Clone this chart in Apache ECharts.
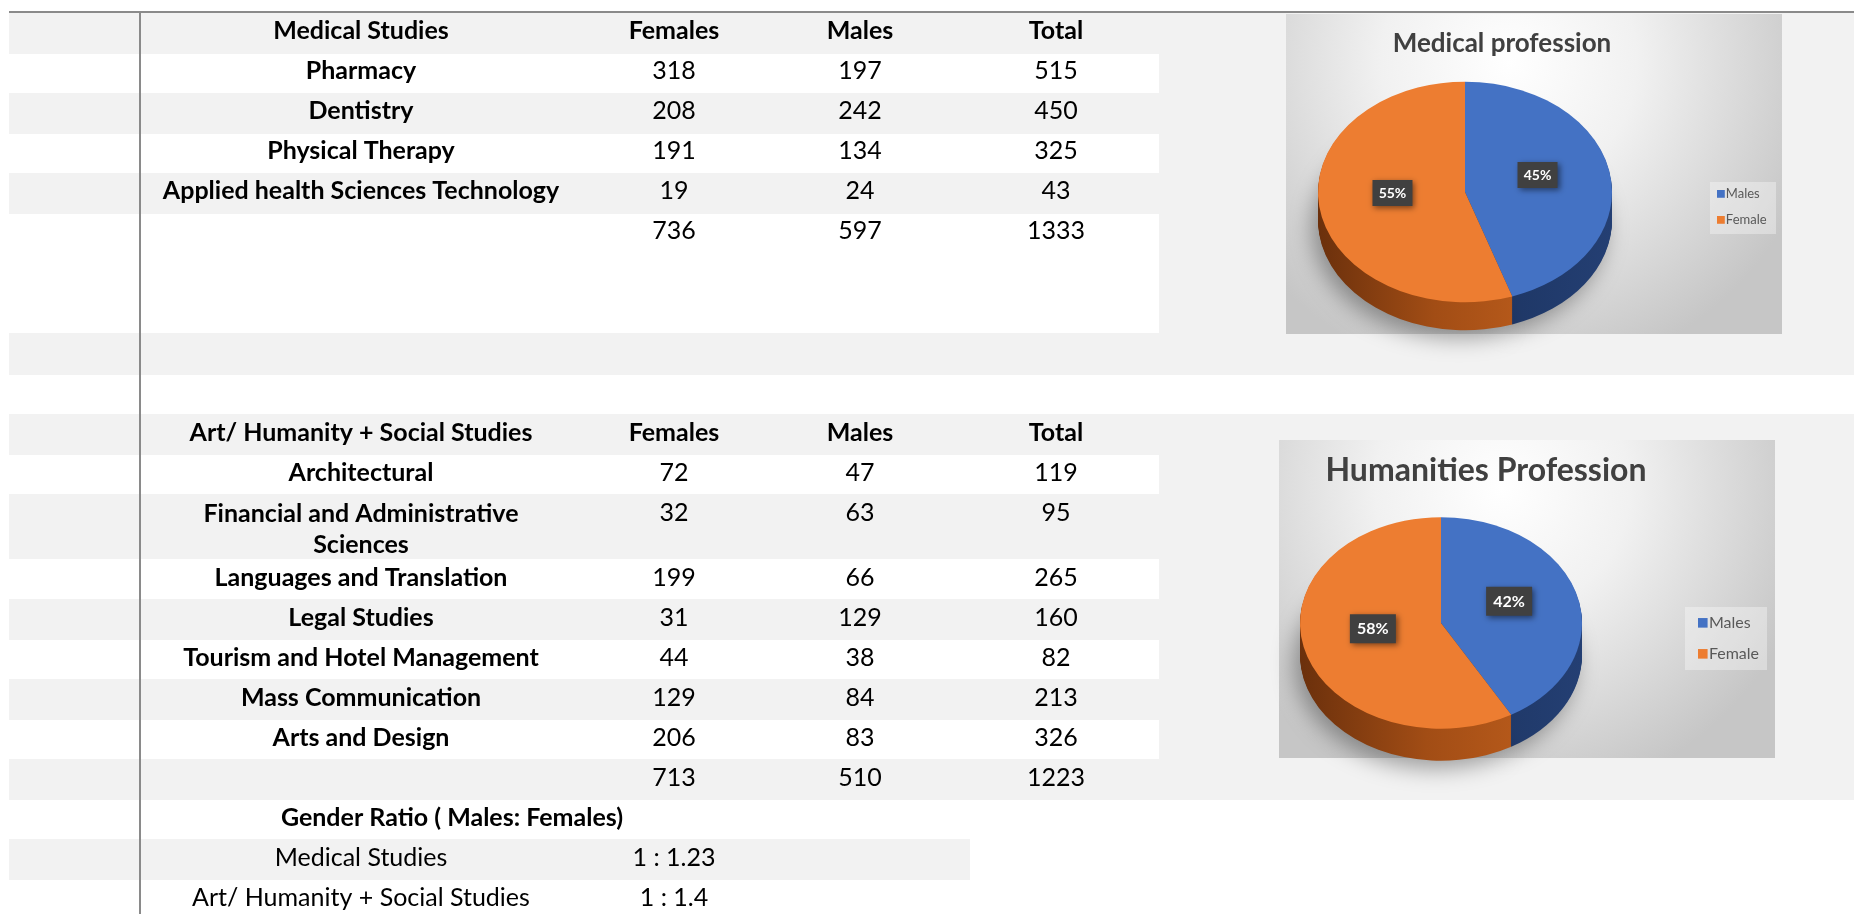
<!DOCTYPE html>
<html>
<head>
<meta charset="utf-8">
<title>Gender Ratio</title>
<script src="https://cdn.jsdelivr.net/npm/echarts@6/dist/echarts.min.js"></script>
<style>
html,body{margin:0;padding:0;background:#fff;}
#main{width:1854px;height:914px;}
</style>
</head>
<body>
<div id="main"></div>
<script>
// table data
var medHeader = ['Medical Studies', 'Females', 'Males', 'Total'];
var medSubjects = ['Pharmacy', 'Dentistry', 'Physical Therapy', 'Applied health Sciences Technology'];
var medFemales = [318, 208, 191, 19];
var medMales = [197, 242, 134, 24];
var medTotal = [515, 450, 325, 43];
var medSums = [736, 597, 1333];

var artHeader = ['Art/ Humanity + Social Studies', 'Females', 'Males', 'Total'];
var artSubjects = ['Architectural', 'Financial and Administrative\nSciences', 'Languages and Translation',
    'Legal Studies', 'Tourism and Hotel Management', 'Mass Communication', 'Arts and Design'];
var artFemales = [72, 32, 199, 31, 44, 129, 206];
var artMales = [47, 63, 66, 129, 38, 84, 83];
var artTotal = [119, 95, 265, 160, 82, 213, 326];
var artSums = [713, 510, 1223];

var ratioTitle = 'Gender Ratio ( Males: Females)';
var ratioLabels = ['Medical Studies', 'Art/ Humanity + Social Studies'];
var ratioValues = ['1 : 1.23', '1 : 1.4'];

// pie data
var pieNames = ['Males', 'Female'];
var medPie = [597, 736];
var artPie = [510, 713];
var pieTitles = ['Medical profession', 'Humanities Profession'];

var GRAY = '#f2f2f2';
var FONT = 'Lato';
var colX = [361, 674, 860, 1056];

function band(x, y, w, h, fill) {
    return {type: 'rect', z: 0, shape: {x: x, y: y, width: w, height: h}, style: {fill: fill}};
}
function txt(x, y, s, bold, size) {
    return {type: 'text', z: 1, x: x, y: y,
        style: {text: s, fill: '#000', fontFamily: FONT, fontSize: size || 25,
            fontWeight: bold ? 'bold' : 'normal', align: 'center', verticalAlign: 'middle', lineHeight: 31}};
}

var g = [];
// 背景色块
g.push(band(9, 12, 1845, 321, GRAY));         // table 1 + pie cell
g.push(band(9, 54, 1150, 39, '#fff'));
g.push(band(9, 134, 1150, 39, '#fff'));
g.push(band(9, 214, 1150, 119, '#fff'));
g.push(band(9, 333, 1845, 42, GRAY));
g.push(band(9, 414, 1845, 386, GRAY));        // table 2 + pie cell
g.push(band(9, 455, 1150, 39, '#fff'));
g.push(band(9, 559, 1150, 40, '#fff'));
g.push(band(9, 640, 1150, 39, '#fff'));
g.push(band(9, 720, 1150, 39, '#fff'));
g.push(band(9, 839, 961, 41, GRAY));
// lines
g.push({type: 'line', z: 3, shape: {x1: 9, y1: 12, x2: 1854, y2: 12}, style: {stroke: '#8a8a8a', lineWidth: 2}});
g.push({type: 'line', z: 3, shape: {x1: 140, y1: 12, x2: 140, y2: 914}, style: {stroke: '#8a8a8a', lineWidth: 2}});

// table 1
for (var h = 0; h < medHeader.length; h++) g.push(txt(colX[h], 31, medHeader[h], true));
var medY = [71, 111, 151, 191];
for (var i = 0; i < medSubjects.length; i++) {
    g.push(txt(colX[0], medY[i], medSubjects[i], true));
    g.push(txt(colX[1], medY[i], String(medFemales[i])));
    g.push(txt(colX[2], medY[i], String(medMales[i])));
    g.push(txt(colX[3], medY[i], String(medTotal[i])));
}
for (var s = 0; s < medSums.length; s++) g.push(txt(colX[s + 1], 231, String(medSums[s])));

// table 2
var artY = [473, 529, 578, 618, 658, 698, 738];
for (var h2 = 0; h2 < artHeader.length; h2++) g.push(txt(colX[h2], 433, artHeader[h2], true));
for (var j = 0; j < artSubjects.length; j++) {
    var yy = artY[j];
    g.push(txt(colX[0], yy, artSubjects[j], true));
    var ny = j == 1 ? 513 : yy;
    g.push(txt(colX[1], ny, String(artFemales[j])));
    g.push(txt(colX[2], ny, String(artMales[j])));
    g.push(txt(colX[3], ny, String(artTotal[j])));
}
for (var s2 = 0; s2 < artSums.length; s2++) g.push(txt(colX[s2 + 1], 778, String(artSums[s2])));

// gender ratio
g.push(txt(452, 818, ratioTitle, true));
for (var r = 0; r < ratioLabels.length; r++) {
    g.push(txt(colX[0], 858 + r * 40, ratioLabels[r]));
    g.push(txt(colX[1], 858 + r * 40, ratioValues[r]));
}

// chart picture backgrounds
function picBg(x, y, w, h) {
    return {type: 'rect', z: 1, shape: {x: x, y: y, width: w, height: h},
        style: {fill: {type: 'radial', x: 0.45, y: 0.15, r: 1.0,
            colorStops: [{offset: 0, color: '#ffffff'}, {offset: 0.4, color: '#f1f1f1'}, {offset: 1, color: '#c6c6c6'}]}}};
}
g.push(picBg(1286, 14, 496, 320));
g.push(picBg(1279, 440, 496, 318));

// titles
g.push({type: 'text', z: 3, x: 1502, y: 44,
    style: {text: pieTitles[0], fill: '#404040', fontFamily: FONT, fontSize: 26, fontWeight: 'bold', align: 'center', verticalAlign: 'middle'}});
g.push({type: 'text', z: 3, x: 1486, y: 471,
    style: {text: pieTitles[1], fill: '#404040', fontFamily: FONT, fontSize: 32, fontWeight: 'bold', align: 'center', verticalAlign: 'middle'}});

// legends
function legend(x, y, gap, size, box) {
    var colors = ['#4472c4', '#ed7d31'];
    g.push({type: 'rect', z: 2, shape: box, style: {fill: 'rgba(255,255,255,0.35)'}});
    for (var k = 0; k < pieNames.length; k++) {
        g.push({type: 'rect', z: 3, shape: {x: x, y: y + k * gap - size * 0.31, width: size * 0.6, height: size * 0.6},
            style: {fill: colors[k]}});
        g.push({type: 'text', z: 3, x: x + size * 0.68, y: y + k * gap,
            style: {text: pieNames[k], fill: '#595959', fontFamily: FONT, fontSize: size, verticalAlign: 'middle'}});
    }
}
legend(1717, 194, 26, 13, {x: 1710, y: 182, width: 66, height: 52});
legend(1698, 623, 31, 16, {x: 1685, y: 607, width: 82, height: 63});

// 3D-looking elliptical pie
var FACE = ['#4472c4', '#ed7d31'];
var SIDE = [
    {type: 'linear', x: 0, y: 0, x2: 1, y2: 0, colorStops: [{offset: 0, color: '#1c3461'}, {offset: 1, color: '#243f73'}]},
    {type: 'linear', x: 0, y: 0, x2: 1, y2: 0, colorStops: [{offset: 0, color: '#6b300c'}, {offset: 0.6, color: '#a24d15'}, {offset: 1, color: '#b4581a'}]}
];
function pie3d(values, cx, cy, r, depth, ratio, boxW, boxH, fs) {
    var total = 0;
    for (var i = 0; i < values.length; i++) total += values[i];
    return {
        type: 'custom',
        coordinateSystem: 'none',
        data: values.map(function (v, i) { return {name: pieNames[i], value: [v, i]}; }),
        renderItem: function (params, api) {
            var idx = api.value(1), v = api.value(0);
            var before = 0;
            for (var k = 0; k < idx; k++) before += values[k];
            var a0 = -Math.PI / 2 + before / total * Math.PI * 2;
            var a1 = a0 + v / total * Math.PI * 2;
            var kids = [];
            for (var d = depth; d >= 1; d--) {
                var el = {type: 'sector', z2: 1, x: cx, y: cy + d, scaleY: ratio,
                    shape: {cx: 0, cy: 0, r0: 0, r: r, startAngle: a0, endAngle: a1, clockwise: true},
                    style: {fill: SIDE[idx]}};
                if (d == depth) {
                    el.style.shadowBlur = 22;
                    el.style.shadowColor = 'rgba(0,0,0,0.35)';
                    el.style.shadowOffsetX = -6;
                    el.style.shadowOffsetY = 8;
                }
                kids.push(el);
            }
            kids.push({type: 'sector', z2: 5, x: cx, y: cy, scaleY: ratio,
                shape: {cx: 0, cy: 0, r0: 0, r: r, startAngle: a0, endAngle: a1, clockwise: true},
                style: {fill: FACE[idx]}});
            var mid = (a0 + a1) / 2;
            var lx = cx + Math.cos(mid) * r * 0.5;
            var ly = cy + Math.sin(mid) * r * 0.5 * ratio - 8;
            kids.push({type: 'rect', z2: 8, shape: {x: lx - boxW / 2, y: ly - boxH / 2, width: boxW, height: boxH},
                style: {fill: '#404040', shadowBlur: 6, shadowColor: 'rgba(0,0,0,0.5)', shadowOffsetX: 2, shadowOffsetY: 2}});
            kids.push({type: 'text', z2: 9, x: lx, y: ly,
                style: {text: Math.round(v / total * 100) + '%', fill: '#fff', fontFamily: FONT, fontWeight: 'bold',
                    fontSize: fs, align: 'center', verticalAlign: 'middle'}});
            return {type: 'group', children: kids};
        }
    };
}

var chart = echarts.init(document.getElementById('main'));
chart.setOption({
    animation: false,
    graphic: {elements: g},
    series: [
        pie3d(medPie, 1465, 192, 147, 28, 0.75, 40, 26, 14),
        pie3d(artPie, 1441, 623, 141, 32, 0.75, 46, 29, 16)
    ]
});
</script>
</body>
</html>
